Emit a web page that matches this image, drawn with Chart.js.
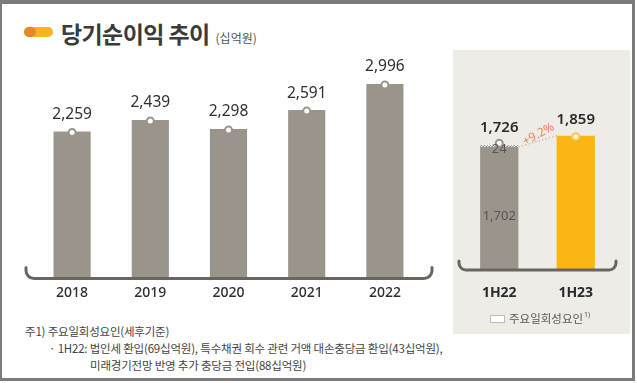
<!DOCTYPE html>
<html><head><meta charset="utf-8">
<script src="https://cdn.jsdelivr.net/npm/chart.js@4"></script>
<style>
html,body{margin:0;padding:0;background:#fff;}
body{width:637px;height:383px;position:relative;overflow:hidden;font-family:"Noto Sans CJK KR","Noto Sans",sans-serif;}
#frame{position:absolute;left:0;top:0;width:635px;height:381px;box-sizing:border-box;border-style:solid;border-color:#7b7b7b;border-width:4px 3px 3px 2px;}
#panel{position:absolute;left:453px;top:50px;width:177px;height:284px;background:#eeece7;}
canvas{position:absolute;left:0;top:0;}
#pill{position:absolute;left:24px;top:27px;width:29px;height:10px;border-radius:5px;background:#f9b51c;}
#pill:before{content:"";position:absolute;left:0;top:0;width:12px;height:10px;border-radius:5px;background:#e8862a;}
#title{position:absolute;left:61px;top:16px;font-size:23px;font-weight:700;color:#3a3a3a;letter-spacing:-0.6px;white-space:nowrap;}
#unit{font-size:12px;font-weight:400;color:#555;margin-left:6px;letter-spacing:0;}
.fn{position:absolute;font-size:11.5px;color:#444;white-space:nowrap;letter-spacing:-0.2px;}
</style></head>
<body>
<div id="panel"></div>
<div id="pill"></div>
<div id="title">당기순이익 추이<span id="unit">(십억원)</span></div>
<div class="fn" style="left:25px;top:323px;">주1) 주요일회성요인(세후기준)</div>
<div class="fn" style="left:49px;top:340px;">· 1H22: 법인세 환입(69십억원), 특수채권 회수 관련 거액 대손충당금 환입(43십억원),</div>
<div class="fn" style="left:90px;top:357px;">미래경기전망 반영 추가 충당금 전입(88십억원)</div>
<canvas id="c1" width="637" height="383"></canvas>
<canvas id="c2" width="637" height="383"></canvas>
<div id="frame"></div>
<script>
// ---- data ----
const years = ["2018","2019","2020","2021","2022"];
const netIncome = [2259, 2439, 2298, 2591, 2996];
const halfLabels = ["1H22","1H23"];
const halfBase = [1702, null];
const halfOneOff = [24, null];
const halfCurrent = [null, 1859];
const halfTotals = [1726, 1859];
const growthLabel = "+9.2%";
const legendLabel = "주요일회성요인";

const GRAY = "#9b948a";
const YELLOW = "#fbb515";
const BRACKET = "#6a6561";
const fmt = v => v.toLocaleString("en-US");

function drawBracket(ctx, x1, x2, y, h, r){
  ctx.save();
  ctx.strokeStyle = BRACKET; ctx.lineWidth = 3; ctx.lineCap = "round";
  ctx.beginPath();
  ctx.moveTo(x1, y - h);
  ctx.arcTo(x1, y, x1 + r, y, r);
  ctx.lineTo(x2 - r, y);
  ctx.arcTo(x2, y, x2, y - h, r);
  ctx.lineTo(x2, y - h);
  ctx.stroke();
  ctx.restore();
}
function marker(ctx, x, y, stroke, fill){
  ctx.save();
  ctx.beginPath(); ctx.arc(x, y, 3.5, 0, Math.PI*2);
  ctx.fillStyle = fill; ctx.fill();
  ctx.lineWidth = 2; ctx.strokeStyle = stroke; ctx.stroke();
  ctx.restore();
}

// ---- left chart ----
const leftPlugin = {
  id: "leftDeco",
  afterDatasetsDraw(chart){
    const {ctx, chartArea:a, scales:{x, y}} = chart;
    drawBracket(ctx, a.left - 7, a.right + 8, a.bottom + 1.5, 11, 8);
    const meta = chart.getDatasetMeta(0);
    ctx.save();
    meta.data.forEach((bar, i) => {
      marker(ctx, bar.x, bar.y + 1, GRAY, "#fff");
      ctx.fillStyle = "#2e2e2e";
      ctx.font = "15.5px 'Noto Sans', sans-serif";
      ctx.textAlign = "center"; ctx.textBaseline = "middle";
      ctx.fillText(fmt(netIncome[i]), bar.x, bar.y - 17);
      ctx.font = "500 14px 'Noto Sans', sans-serif";
      ctx.fillStyle = "#2e2e2e";
      ctx.fillText(years[i], x.getPixelForValue(i), a.bottom + 16);
    });
    ctx.restore();
  }
};
new Chart(document.getElementById("c1"), {
  type: "bar",
  data: { labels: years, datasets: [{ data: netIncome, backgroundColor: GRAY, borderWidth: 0,
    barPercentage: 0.95, categoryPercentage: 0.5 }] },
  options: {
    responsive: false, animation: false, devicePixelRatio: 1,
    layout: { padding: { left: 33, right: 213, top: 58, bottom: 106 } },
    plugins: { legend: { display: false }, tooltip: { enabled: false } },
    scales: { x: { display: false }, y: { display: false, min: 0, max: 3400 } }
  },
  plugins: [leftPlugin]
});

// ---- right chart ----
const rightPlugin = {
  id: "rightDeco",
  afterDatasetsDraw(chart){
    const {ctx, chartArea:a, scales:{x, y}} = chart;
    drawBracket(ctx, a.left - 2, a.right + 2, a.bottom, 9, 7);
    const base = chart.getDatasetMeta(0).data[0];
    const one = chart.getDatasetMeta(1).data[0];
    const cur = chart.getDatasetMeta(2).data[1];
    ctx.save();
    // dotted box for one-off
    const w = one.width;
    ctx.strokeStyle = "#8a8580"; ctx.lineWidth = 1; ctx.setLineDash([1.5, 1.5]);
    ctx.strokeRect(one.x - w/2 + 0.5, one.y + 0.5, w - 1, one.base - one.y - 1);
    // growth dotted line
    ctx.strokeStyle = "#d9a07a"; ctx.setLineDash([1.5, 2]);
    ctx.beginPath(); ctx.moveTo(base.x + w/2, base.y); ctx.lineTo(cur.x - cur.width/2, cur.y); ctx.stroke();
    ctx.setLineDash([]);
    // markers
    marker(ctx, one.x, one.y - 2, GRAY, "#fff");
    marker(ctx, cur.x, cur.y + 1, "#f5c75a", "#fff3c8");
    // texts
    ctx.textAlign = "center"; ctx.textBaseline = "middle";
    ctx.fillStyle = "#2a2a2a"; ctx.font = "600 15px 'Noto Sans', sans-serif";
    ctx.fillText(fmt(halfTotals[0]), one.x, one.y - 18);
    ctx.fillText(fmt(halfTotals[1]), cur.x, cur.y - 16);
    ctx.fillStyle = "#555"; ctx.font = "13px 'Noto Sans', sans-serif";
    ctx.fillText(String(halfOneOff[0]), one.x, (one.y + one.base)/2 + 3);
    ctx.fillText(fmt(halfBase[0]), base.x, y.getPixelForValue(halfBase[0] * 0.44));
    ctx.fillStyle = "#2a2a2a"; ctx.font = "700 14px 'Noto Sans', sans-serif";
    halfLabels.forEach((l, i) => ctx.fillText(l, x.getPixelForValue(i), a.bottom + 23));
    // growth label
    ctx.save();
    ctx.translate((base.x + w/2 + cur.x - cur.width/2)/2 + 1, (base.y + cur.y)/2 - 7);
    ctx.rotate(-0.5);
    ctx.fillStyle = "#e8825a"; ctx.font = "12px 'Noto Sans', sans-serif";
    ctx.fillText(growthLabel, 0, 0);
    ctx.restore();
    // legend
    const lx = 490, ly = a.bottom + 49;
    ctx.fillStyle = "#fff"; ctx.fillRect(lx, ly - 4, 15, 8);
    ctx.strokeStyle = "#777"; ctx.setLineDash([1, 1]);
    ctx.strokeRect(lx + 0.5, ly - 3.5, 14, 7);
    ctx.setLineDash([]);
    ctx.textAlign = "left"; ctx.fillStyle = "#555";
    ctx.font = "11.5px 'Noto Sans CJK KR', sans-serif";
    ctx.fillText(legendLabel, lx + 19, ly);
    const tw = ctx.measureText(legendLabel).width;
    ctx.font = "7px 'Noto Sans', sans-serif";
    ctx.fillText("1)", lx + 20 + tw, ly - 4);
    ctx.restore();
  }
};
new Chart(document.getElementById("c2"), {
  type: "bar",
  data: { labels: halfLabels, datasets: [
    { data: halfBase, backgroundColor: GRAY, borderWidth: 0 },
    { data: halfOneOff, backgroundColor: "#ffffff", borderWidth: 0 },
    { data: halfCurrent, backgroundColor: YELLOW, borderWidth: 0 }
  ]},
  options: {
    responsive: false, animation: false, devicePixelRatio: 1,
    datasets: { bar: { barPercentage: 1, categoryPercentage: 0.5 } },
    layout: { padding: { left: 461, right: 637 - 614, top: 111, bottom: 113 } },
    plugins: { legend: { display: false }, tooltip: { enabled: false } },
    scales: { x: { display: false, stacked: true }, y: { display: false, stacked: true, min: 0, max: 2200 } }
  },
  plugins: [rightPlugin]
});
</script>
</body></html>
